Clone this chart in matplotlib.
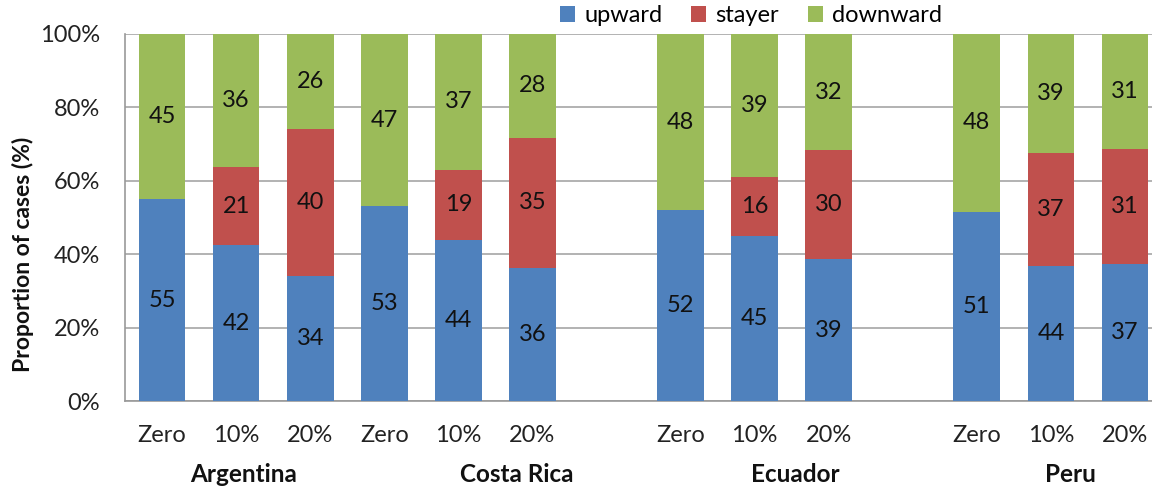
import numpy as np
import matplotlib
matplotlib.use("Agg")
import matplotlib.pyplot as plt

plt.rcParams['font.family'] = ['Lato', 'DejaVu Sans']

# counts as printed on the chart (each bar is scaled to 100%)
countries = ["Argentina", "Costa Rica", "Ecuador", "Peru"]
levels = ["Zero", "10%", "20%"]
upward = [55, 42, 34, 53, 44, 36, 52, 45, 39, 51, 44, 37]
stayer = [0, 21, 40, 0, 19, 35, 0, 16, 30, 0, 37, 31]
downward = [45, 36, 26, 47, 37, 28, 48, 39, 32, 48, 39, 31]

# slot positions on the category axis (gaps before Ecuador and Peru)
slots = [0, 1, 2, 3, 4, 5, 7, 8, 9, 11, 12, 13]
group_pos = [1.1, 4.79, 8.55, 12.27]

colors = {"upward": "#4F81BD", "stayer": "#C0504D", "downward": "#9BBB59"}

up = np.array(upward, float)
st = np.array(stayer, float)
dn = np.array(downward, float)
tot = up + st + dn
up_p, st_p, dn_p = up / tot * 100, st / tot * 100, dn / tot * 100

fig = plt.figure(figsize=(11.52, 4.92), dpi=100)
ax = fig.add_axes([125 / 1152, 1 - 401 / 492, 1037 / 1152, 367 / 492])

w = 0.63
b1 = ax.bar(slots, up_p, w, color=colors["upward"], label="upward", zorder=3)
b2 = ax.bar(slots, st_p, w, bottom=up_p, color=colors["stayer"], label="stayer", zorder=3)
b3 = ax.bar(slots, dn_p, w, bottom=up_p + st_p, color=colors["downward"], label="downward", zorder=3)

for vals, bottoms, pct in [(up, np.zeros_like(up_p), up_p), (st, up_p, st_p), (dn, up_p + st_p, dn_p)]:
    for x, v, b, p in zip(slots, vals, bottoms, pct):
        if v > 0:
            ax.text(x, b + p / 2, f"{int(v)}", ha="center", va="center",
                    fontsize=17, color="#111111", zorder=4)

ax.set_xlim(-0.5, 13.5)
ax.set_ylim(0, 100)
ax.set_yticks(np.arange(0, 101, 20))
ax.set_yticklabels([f"{t}%" for t in range(0, 101, 20)])
ax.set_xticks(slots)
ax.set_xticklabels(levels * 4)
ax.tick_params(axis="y", length=0, pad=18, labelsize=17, labelcolor="#222222")
ax.tick_params(axis="x", length=0, pad=17, labelsize=17, labelcolor="#222222")
ax.yaxis.grid(True, color="#a6a6a6", linewidth=1.2, zorder=0)
for s in ["top", "right"]:
    ax.spines[s].set_visible(False)
for s in ["left", "bottom"]:
    ax.spines[s].set_color("#999999")
    ax.spines[s].set_linewidth(1.2)

for gx, name in zip(group_pos, countries):
    ax.text(gx, -0.2, name, transform=ax.get_xaxis_transform(), ha="center", va="center",
            fontsize=17.5, fontweight="bold", color="#111111")

fig.text(23 / 1152, 1 - 254 / 492, "Proportion of cases (%)", rotation=90, ha="center",
         va="center", fontsize=16.5, fontweight="bold", color="#111111")

fig.legend(handles=[b1, b2, b3], loc="center", bbox_to_anchor=(751 / 1152, 1 - 16 / 492),
           ncol=3, frameon=False, fontsize=17, handlelength=0.65, handleheight=0.65,
           handletextpad=0.4, columnspacing=1.2)

fig.savefig("out.png", dpi=100)
